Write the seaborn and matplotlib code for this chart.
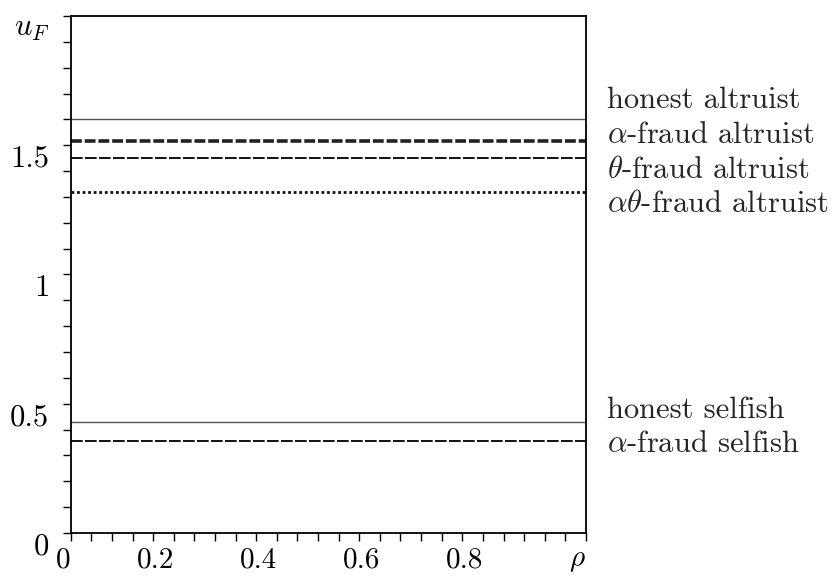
import numpy as np
import pandas as pd
import matplotlib
matplotlib.use('Agg')
import matplotlib.pyplot as plt
import matplotlib.transforms as mtransforms
import seaborn as sns

# Data (constant utilities over rho)
rho = [0.0, 1.0]
honest_altruist = [1.60, 1.60]
alpha_fraud_altruist = [1.517, 1.517]
theta_fraud_altruist = [1.45, 1.45]
alphatheta_fraud_altruist = [1.32, 1.32]
honest_selfish = [0.428, 0.428]
alpha_fraud_selfish = [0.357, 0.357]

series_names = ['honest altruist', r'$\alpha$-fraud altruist', r'$\theta$-fraud altruist',
                r'$\alpha\theta$-fraud altruist', 'honest selfish', r'$\alpha$-fraud selfish']
series_values = [honest_altruist, alpha_fraud_altruist, theta_fraud_altruist,
                 alphatheta_fraud_altruist, honest_selfish, alpha_fraud_selfish]

x_tick_labels = ['0', '0.2', '0.4', '0.6', '0.8', r'$\rho$']
y_tick_labels = ['0', '0.5', '1', '1.5', '$u_F$']

# styles: (color, linewidth, dashes)
styles = [('#555555', 1.0, None),
          ('#222222', 2.6, (3, 0.8)),
          ('#111111', 1.4, (6, 1.2)),
          ('#111111', 2.0, (1, 1)),
          ('#555555', 1.0, None),
          ('#111111', 1.4, (6, 1.2))]
label_y = [1.644, 1.509, 1.373, 1.242, 0.445, 0.313]
FS = 22

sns.set_style('ticks')
plt.rcParams['font.family'] = ['cmr10', 'DejaVu Serif']
plt.rcParams['mathtext.fontset'] = 'cm'
plt.rcParams['axes.formatter.use_mathtext'] = True

fig = plt.figure(figsize=(8.34, 5.77), dpi=100)
ax = fig.add_axes([0.0848, 0.0763, 0.6178, 0.896])

for name, vals, (c, lw, d) in zip(series_names, series_values, styles):
    df = pd.DataFrame({'rho': rho, 'u': vals})
    sns.lineplot(data=df, x='rho', y='u', ax=ax, color=c, linewidth=lw)
    ln = ax.get_lines()[-1]
    if d is not None:
        ln.set_dashes(d)

ax.set_xlim(0, 1)
ax.set_ylim(0, 2)
ax.set_xlabel('')
ax.set_ylabel('')

xt = np.round(np.arange(0, 1.0001, 0.04), 2)
xl = []
for v in xt:
    if abs(v * 5 - round(v * 5)) < 1e-6:
        xl.append(x_tick_labels[int(round(v * 5))])
    else:
        xl.append('')
ax.set_xticks(xt)
ax.set_xticklabels(xl, fontsize=21)
for t in ax.get_xticklabels():
    t.set_horizontalalignment('right')

yt = np.round(np.arange(0, 2.0001, 0.1), 2)
yl = []
for v in yt:
    if abs(v * 2 - round(v * 2)) < 1e-6:
        yl.append(y_tick_labels[int(round(v * 2))])
    else:
        yl.append('')
ax.set_yticks(yt)
ax.set_yticklabels(yl, fontsize=FS)
for t in ax.get_yticklabels():
    t.set_verticalalignment('top')

ax.tick_params(axis='x', direction='out', length=5.5, width=1, pad=5, colors='black')
ax.tick_params(axis='y', direction='out', length=5.5, width=1, pad=10, colors='black')
for s in ax.spines.values():
    s.set_visible(True)
    s.set_linewidth(1.3)
    s.set_color('black')

trans = mtransforms.blended_transform_factory(ax.transAxes, ax.transData)
for name, yy in zip(series_names, label_y):
    ax.text(1.041, yy, name, transform=trans, fontsize=FS, va='baseline', ha='left')

fig.savefig('out.png', dpi=100)
